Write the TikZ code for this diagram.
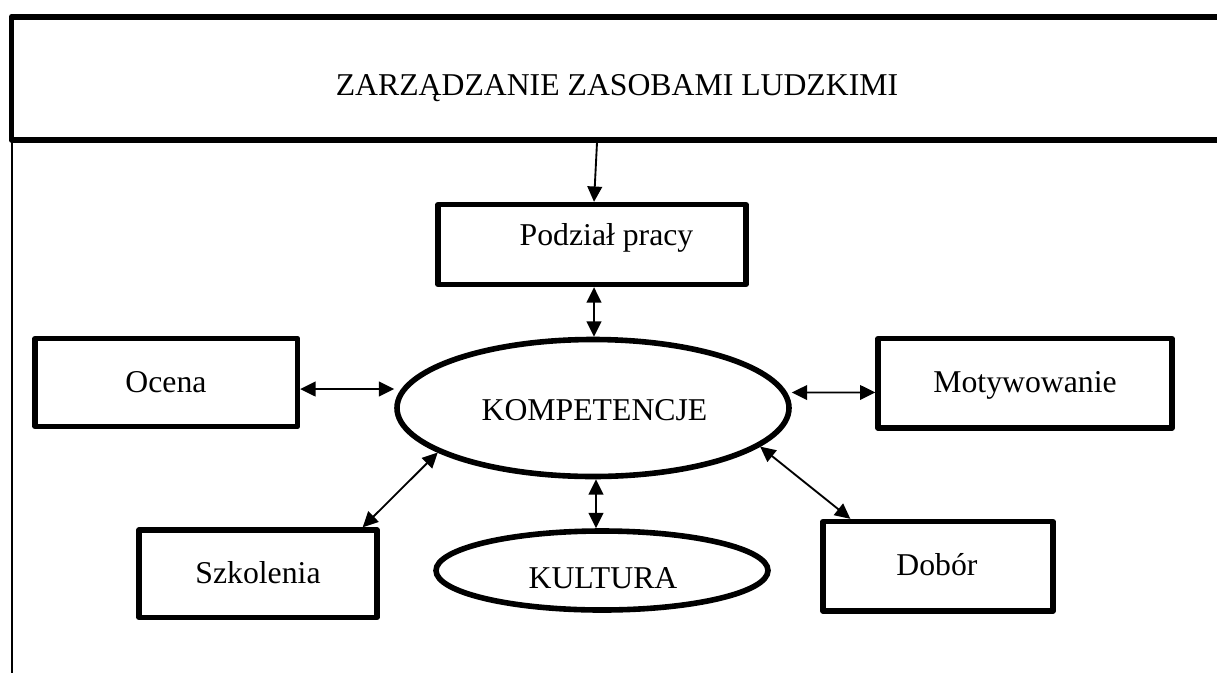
\documentclass[tikz,border=0pt]{standalone}
\usepackage{fontspec}
\setmainfont{Liberation Serif}
\usetikzlibrary{arrows.meta,shapes.geometric,fit}
\begin{document}
\begin{tikzpicture}[x=0.75pt,y=-0.75pt,
  frame/.style={draw, line width=4.3pt, inner sep=0pt, line join=round},
  boxst/.style={draw, line width=4pt, inner sep=0pt, line join=round},
  ovalst/.style={draw, ellipse, line width=4.2pt, inner sep=0pt},
  lbl/.style={anchor=base, inner sep=0pt, font=\fontsize{23.8}{28}\selectfont},
  link/.style={line width=1.4pt, {Triangle[length=11.5pt,width=11pt]}-{Triangle[length=11.5pt,width=11pt]}},
  feed/.style={line width=1.4pt, -{Triangle[length=11.5pt,width=11pt]}}]
\useasboundingbox (0,0) rectangle (1217,672);

% header band, open to the right
\node[frame, fit={(11.5,16.7) (1240,139.7)}] (top) {};
\node[lbl] (toptext) at (617,95) {ZARZĄDZANIE ZASOBAMI LUDZKIMI};
\coordinate (railtop) at (11.5,141);
\coordinate (railend) at (11.5,680);
\draw[line width=1.5pt] (railtop) -- (railend);

% boxes
\node[boxst, fit={(438,204.5) (746,284.5)}] (pod) {};
\node[lbl] (podtext) at (606.5,245) {Podział pracy};
\node[boxst, fit={(35,338.5) (297.5,426.5)}] (oc) {};
\node[lbl] (octext) at (166,392) {Ocena};
\node[boxst, fit={(878,338.5) (1172,428)}] (mot) {};
\node[lbl] (mottext) at (1025,392) {Motywowanie};
\node[boxst, fit={(139,530) (377,617.5)}] (szk) {};
\node[lbl] (szktext) at (258,583) {Szkolenia};
\node[boxst, fit={(823,521.5) (1053,611)}] (dob) {};
\node[lbl] (dobtext) at (937,575) {Dobór};

% ellipses
\node[ovalst, minimum width=294pt, minimum height=102.75pt] (komp) at (593,408) {};
\node[lbl] (komptext) at (594.5,420) {KOMPETENCJE};
\node[ovalst, minimum width=249pt, minimum height=59.25pt] (kult) at (602,570.5) {};
\node[lbl] (kulttext) at (603,588) {KULTURA};

% connectors
\coordinate (topfoot) at (597,142.5);
\draw[feed] (topfoot) -- ([xshift=1.5pt]pod.north);
\draw[link] ([xshift=1.5pt]pod.south) -- ([xshift=0.75pt]komp.north);
\draw[link] ([yshift=-4.9pt]oc.east) -- ([yshift=14.25pt]komp.west);
\draw[link] ([yshift=11.6pt]komp.east) -- ([yshift=-6.9pt]mot.west);
\draw[link] ([xshift=-12.75pt]szk.north east) -- (komp.196);
\draw[link] (komp.-13.6) -- ([xshift=22.5pt]dob.north west);
\draw[link] ([xshift=2.25pt]komp.south) -- ([xshift=-4.5pt]kult.north);
\end{tikzpicture}
\end{document}
